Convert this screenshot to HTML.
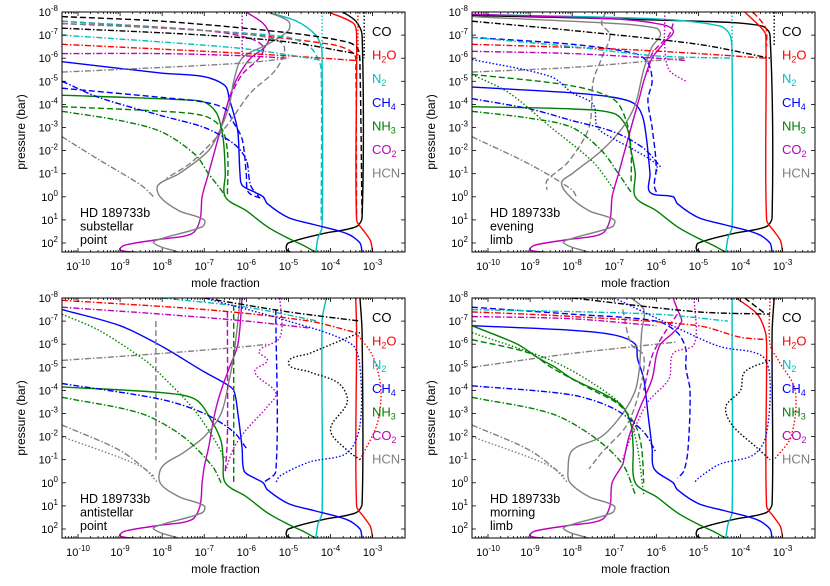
<!DOCTYPE html>
<html><head><meta charset="utf-8"><style>
body{margin:0;background:#fff;}
svg{display:block;font-family:"Liberation Sans",sans-serif;}
</style></head><body>
<svg id="chart" width="830" height="586" viewBox="0 0 830 586" xmlns="http://www.w3.org/2000/svg"></svg>
<script>
// ---- data (x = log10 mole fraction, y = log10 pressure in bar) ----
const species = ["CO","H2O","N2","CH4","NH3","CO2","HCN"];
const colors = {CO:"#000000",H2O:"#ff0000",N2:"#00bfbf",CH4:"#0000ff",NH3:"#008000",CO2:"#bf00bf",HCN:"#808080"};
const panelTitles = [["HD 189733b","substellar","point"],["HD 189733b","evening","limb"],["HD 189733b","antistellar","point"],["HD 189733b","morning","limb"]];
const xTickExps = [-10,-9,-8,-7,-6,-5,-4,-3];
const yTickExps = [-8,-7,-6,-5,-4,-3,-2,-1,0,1,2];

const deepCO = [[-3.25,0.9],[-3.4,1.3],[-4.2,1.6],[-5,2.0],[-5.05,2.25],[-4.95,2.4]];
const deepH2O = [[-3.38,1],[-3.2,1.5],[-3.05,1.9],[-3,2.4]];
const deepN2 = [[-4.2,1.3],[-4.3,1.8],[-4.35,2.4]];
const deepCH4 = [[-5.6,0],[-5.5,0.3],[-5,0.9],[-4.4,1.2],[-3.6,1.6],[-3.3,2],[-3.25,2.4]];
const deepNH3 = [[-6.5,0],[-6,0.6],[-5.5,1.3],[-5,1.8],[-4.65,2.1],[-4.35,2.4]];
const deepCO2 = [[-7.05,0],[-7.1,1],[-7.3,1.6],[-8.1,1.85],[-8.9,2.1],[-9,2.3],[-8.6,2.4]];
const deepHCN = [[-8.05,0],[-7.6,0.6],[-7,1],[-7.05,1.3],[-8,1.8],[-8.2,2],[-7.6,2.4]];

const panel1 = [
 ["CO","solid",[[-3.7,-8],[-3.4,-7.6],[-3.25,-7]].concat(deepCO)],
 ["H2O","solid",[[-4.05,-8],[-3.45,-7.5],[-3.38,-7]].concat(deepH2O)],
 ["N2","solid",[[-5.5,-8],[-4.8,-7.6],[-4.35,-7],[-4.22,-6.5],[-4.2,-6]].concat(deepN2)],
 ["CH4","solid",[[-10.38,-5.85],[-8,-5.35],[-7,-5.2],[-6.5,-4.8],[-6.4,-4.2],[-6.3,-3.6],[-6.2,-2.8],[-6.15,-1],[-6.1,-0.5],[-5.8,-0.2]].concat(deepCH4)],
 ["NH3","solid",[[-10.38,-4.4],[-7.5,-4.2],[-7,-4.1],[-6.7,-3.6],[-6.55,-2.5],[-6.5,-1]].concat(deepNH3)],
 ["CO2","solid",[[-6,-8],[-5.6,-7.5],[-5.45,-7],[-5.55,-6.5],[-5.9,-6],[-6.2,-5.2],[-6.4,-4.3],[-6.6,-3],[-6.75,-2],[-6.9,-1]].concat(deepCO2)],
 ["HCN","solid",[[-5.5,-8],[-5,-7.6],[-5,-7.2],[-5.5,-6.6],[-6.1,-6],[-6.3,-5],[-6.4,-4],[-6.6,-3],[-6.9,-2],[-7.6,-1],[-8.1,-0.5]].concat(deepHCN)],
 ["CO","dashed",[[-10.38,-7.8],[-8,-7.6],[-5,-7.1],[-3.6,-6.7],[-3.35,-6.4],[-3.3,-5.5],[-3.25,0.9]]],
 ["H2O","dashed",[[-10.38,-7.6],[-7,-7.2],[-4,-6.6],[-3.45,-6.2],[-3.4,-5.5],[-3.38,0.9]]],
 ["N2","dashed",[[-10.38,-7.6],[-7,-7.2],[-5,-6.9],[-4.5,-6.5],[-4.3,-6],[-4.22,-5.5],[-4.22,1]]],
 ["CH4","dashed",[[-10.38,-4.7],[-8,-4.3],[-7,-4.1],[-6.5,-3.8],[-6.3,-3.2],[-6.1,-2.5],[-6.0,-1],[-5.95,-0.2],[-5.6,0.1]]],
 ["NH3","dashed",[[-10.38,-3.9],[-8,-3.7],[-7,-3.5],[-6.6,-3],[-6.45,-2],[-6.45,0]]],
 ["CO2","dashed",[[-10.38,-7.5],[-7,-7.2],[-6,-6.9],[-5.6,-6.5],[-5.7,-6],[-6.1,-5.3],[-6.4,-4.3]]],
 ["HCN","dashed",[[-10.38,-7.5],[-7,-7.2],[-5.5,-6.9],[-5.1,-6.5],[-5.3,-5.5],[-5.9,-4.5],[-6.5,-3],[-7.3,-1.5],[-7.9,-0.8]]],
 ["CO","dashdot",[[-10.38,-7.3],[-7,-7.0],[-5,-6.7],[-3.4,-6.2]]],
 ["H2O","dashdot",[[-10.38,-6.6],[-7,-6.3],[-5,-6.1],[-3.4,-5.9]]],
 ["N2","dashdot",[[-10.38,-7.0],[-8,-6.7],[-6,-6.4],[-4.5,-6.0],[-4.2,-5.9]]],
 ["CH4","dashdot",[[-10.38,-5],[-9.5,-4.3],[-8,-3.5],[-7,-3],[-6.3,-2.3],[-6.0,-1.6],[-5.9,-0.5],[-5.7,0]]],
 ["NH3","dashdot",[[-10.38,-3.7],[-9,-3.3],[-8,-2.8],[-7.2,-1.8],[-6.9,-1],[-6.6,-0.3],[-6.5,0]]],
 ["CO2","dashdot",[[-10.38,-6.2],[-8,-6.2],[-6,-6.1],[-5,-6.0]]],
 ["HCN","dashdot",[[-10.38,-5.4],[-8,-5.6],[-6,-5.8],[-5,-6.0]]],
 ["HCN","dashdot",[[-10.38,-2.6],[-9.5,-1.6],[-8.5,-0.5],[-8.2,0]]],
 ["CO2","dotted",[[-6.1,-8],[-6.1,-6]]],
 ["N2","dotted",[[-4.2,-8],[-4.2,-6]]],
 ["CO","dotted",[[-3.2,-8],[-3.2,-6]]],
 ["H2O","dotted",[[-3.35,-8],[-3.35,-6]]]
];
const panel2 = [
 ["CO","solid",[[-10.38,-7.85],[-5,-7.6],[-3.5,-7.4],[-3.3,-7]].concat(deepCO)],
 ["H2O","solid",[[-3.9,-8],[-3.5,-7.3],[-3.4,-7]].concat(deepH2O)],
 ["N2","solid",[[-10.38,-7.9],[-6,-7.7],[-4.5,-7.4],[-4.25,-7],[-4.2,-6]].concat(deepN2)],
 ["CH4","solid",[[-10.38,-4.75],[-8,-4.5],[-7,-4.3],[-6.5,-4],[-6.3,-3.3],[-6.15,-1],[-6.15,-0.2]].concat(deepCH4)],
 ["NH3","solid",[[-10.38,-3.9],[-8,-3.8],[-7,-3.6],[-6.7,-3],[-6.6,-2],[-6.5,-1]].concat(deepNH3)],
 ["CO2","solid",[[-10.38,-7.9],[-7,-7.7],[-6,-7.5],[-5.6,-7.2],[-5.8,-6.7],[-6.1,-6],[-6.3,-5],[-6.4,-4.3],[-6.6,-3],[-6.75,-2],[-6.9,-1]].concat(deepCO2)],
 ["HCN","solid",[[-10.38,-7.8],[-7,-7.5],[-6,-7.3],[-5.9,-7],[-6.1,-6.5],[-6.3,-5.5],[-6.5,-4],[-6.8,-3],[-7.3,-2],[-8,-1],[-8.25,-0.6]].concat(deepHCN)],
 ["H2O","dashed",[[-3.7,-8],[-3.4,-7.3],[-3.38,-6.5]]],
 ["CH4","dashed",[[-10.38,-6.9],[-8,-6.6],[-6.5,-6.2],[-6.2,-5.8],[-6.1,-5],[-6.2,-4.2],[-6.1,-3],[-6,-1.3],[-6.05,-0.5],[-6,-0.2]]],
 ["NH3","dashed",[[-10.38,-5.3],[-8,-4.8],[-7,-4.2],[-6.7,-3.2],[-6.6,-2],[-6.6,-0.6]]],
 ["CO2","dashed",[[-5.6,-7.5],[-5.7,-7],[-6.1,-6.2],[-6.2,-5.4]]],
 ["HCN","dashed",[[-7.2,-8],[-7.3,-7.5],[-7.1,-7],[-7.3,-6],[-7.5,-5],[-7.6,-3],[-8.1,-1.5],[-8.6,-0.7],[-8.6,-0.3]]],
 ["CO","dashdot",[[-10.38,-7.6],[-8,-7.2],[-5,-6.6],[-3.3,-6.0]]],
 ["H2O","dashdot",[[-10.38,-6.6],[-7,-6.4],[-5,-6.2],[-3.4,-6.0]]],
 ["N2","dashdot",[[-10.38,-6.9],[-8,-6.5],[-6,-6.1],[-4.2,-6.0]]],
 ["CH4","dashdot",[[-10.38,-4.25],[-9,-3.8],[-8,-3.3],[-7,-2.8],[-6.3,-2.1],[-5.9,-1.3]]],
 ["NH3","dashdot",[[-10.38,-3.7],[-9,-3.4],[-8,-3],[-7.3,-2.0],[-6.9,-1],[-6.6,-0.2]]],
 ["CO2","dashdot",[[-10.38,-6.3],[-8,-6.2],[-6,-6.0],[-5.3,-5.9]]],
 ["HCN","dashdot",[[-10.38,-5.4],[-8,-5.6],[-6,-5.9],[-5.3,-6.0]]],
 ["HCN","dashdot",[[-10.38,-2.6],[-9,-1.4],[-8,-0.3],[-7.9,0]]],
 ["CH4","dotted",[[-10.38,-5.95],[-8.5,-5.2],[-8,-4.5],[-7.5,-4.0],[-7.4,-3],[-7,-2.5],[-6.5,-2.0],[-6,-1.4],[-6,-1]]],
 ["NH3","dotted",[[-10.38,-5.3],[-9.5,-4.5],[-8.5,-3],[-7.5,-1.5],[-7,-0.3]]],
 ["CO2","dotted",[[-5.8,-8],[-5.8,-6.5],[-5.7,-5.5],[-5.3,-5]]],
 ["CO","dotted",[[-3.2,-8],[-3.2,-6.5]]],
 ["N2","dotted",[[-4.2,-8],[-4.2,-6.5]]]
];
const panel3 = [
 ["CO","solid",[[-3.3,-8],[-3.25,-6.5]].concat(deepCO)],
 ["H2O","solid",[[-3.4,-8],[-3.38,-6.5]].concat(deepH2O)],
 ["N2","solid",[[-4.1,-8],[-4.2,-7]].concat(deepN2)],
 ["CH4","solid",[[-10.38,-7.5],[-9,-6.8],[-8,-5.9],[-7,-4.8],[-6.5,-4.3],[-6.3,-4],[-6.2,-3],[-6.1,-1.5],[-6.05,-0.5],[-5.8,-0.2]].concat(deepCH4)],
 ["NH3","solid",[[-10.38,-4.15],[-8,-3.9],[-7.2,-3.6],[-6.8,-2.6],[-6.6,-1.8],[-6.55,-1]].concat(deepNH3)],
 ["CO2","solid",[[-6.1,-8],[-6.2,-6],[-6.4,-5],[-6.6,-4],[-6.75,-3],[-6.9,-1.5],[-7.0,-0.7]].concat(deepCO2)],
 ["HCN","solid",[[-6.15,-8],[-6.2,-7],[-6.3,-5.5],[-6.4,-4.5],[-6.6,-3],[-7.0,-2],[-7.5,-1.3],[-8.0,-0.7]].concat(deepHCN)],
 ["CO2","dashed",[[-6.45,-7.4],[-6.45,-2],[-6.5,-0.5]]],
 ["NH3","dashed",[[-6.3,-7.7],[-6.3,0]]],
 ["CH4","dashed",[[-5.3,-7.5],[-5.3,-0.5],[-5.6,0]]],
 ["HCN","dashed",[[-8.15,-7],[-8.15,-1]]],
 ["CO","dashdot",[[-7,-8],[-5,-7.4],[-3.3,-7.0]]],
 ["H2O","dashdot",[[-10.38,-7.9],[-7,-7.5],[-4.5,-7],[-3.4,-6.5]]],
 ["N2","dashdot",[[-8,-8],[-6,-7.6],[-4.3,-7]]],
 ["CO2","dashdot",[[-10.38,-7.6],[-8,-7.3],[-6,-7],[-4.5,-6.7]]],
 ["CH4","dashdot",[[-10.38,-4.3],[-8,-3.6],[-7,-3],[-6.3,-2.2],[-6.0,-1.5]]],
 ["NH3","dashdot",[[-10.38,-3.7],[-8.5,-3.0],[-7.5,-2.0],[-6.8,-0.7],[-6.6,0]]],
 ["HCN","dashdot",[[-10.38,-5.3],[-8,-5.6],[-6,-5.9],[-5.5,-6]]],
 ["HCN","dashdot",[[-10.38,-2.5],[-9,-1.4],[-8.2,-0.3]]],
 ["CO","dotted",[[-3.3,-6.5],[-4.5,-5.6],[-5,-5.2],[-4.5,-4.8],[-3.8,-4.3],[-3.6,-3.5],[-4,-2.3],[-3.6,-1.4],[-3.3,-1]]],
 ["H2O","dotted",[[-3.4,-6.5],[-3.0,-5.5],[-2.8,-4],[-2.9,-2.5],[-3.3,-1]]],
 ["CH4","dotted",[[-7,-8],[-5,-7],[-3.5,-6],[-3.3,-5],[-3.3,-2.5],[-3.6,-1.3],[-4.5,-0.9],[-5.2,-0.3],[-5.3,0]]],
 ["CO2","dotted",[[-5.2,-8],[-5.2,-6.3],[-5.7,-5.7],[-5.5,-5.3],[-5.8,-4.8],[-5.3,-3.9],[-5.5,-3.3],[-6,-2.3],[-6.3,-1.5],[-6.5,-0.5]]],
 ["NH3","dotted",[[-10.38,-7.3],[-9.5,-6.6],[-8.4,-5.3],[-8.1,-4.8],[-7.3,-3.3],[-6.8,-2],[-6.5,-1]]],
 ["HCN","dotted",[[-10.38,-2],[-8.5,-0.7],[-8.1,0]]]
];
const panel4 = [
 ["CO","solid",[[-3.2,-8],[-3.25,-6.5]].concat(deepCO)],
 ["H2O","solid",[[-4.1,-8],[-3.6,-7.3],[-3.42,-6.6],[-3.38,-6]].concat(deepH2O)],
 ["N2","solid",[[-4.2,-8],[-4.2,-6]].concat(deepN2)],
 ["CH4","solid",[[-10.38,-6.8],[-8,-6.6],[-7,-6.4],[-6.5,-6],[-6.45,-5.4],[-6.3,-4.5],[-6.2,-3],[-6.1,-1.5],[-6.05,-0.6]].concat(deepCH4)],
 ["NH3","solid",[[-10.38,-6.8],[-9.3,-6],[-8.8,-5.4],[-8.4,-5.0],[-8,-4.5],[-7.2,-3.8],[-6.8,-3.3],[-6.6,-2.5],[-6.55,-1.5]].concat(deepNH3)],
 ["CO2","solid",[[-5.6,-8],[-5.5,-7.5],[-5.4,-7],[-5.6,-6.5],[-5.9,-6],[-6.0,-5.5],[-6.1,-4.5],[-6.4,-3.2],[-6.65,-2],[-6.75,-1.2],[-6.8,-0.8]].concat(deepCO2)],
 ["HCN","solid",[[-6.6,-8],[-6.3,-7.5],[-6.35,-6.5],[-6.4,-5],[-6.5,-4],[-6.8,-3],[-7.3,-2],[-8.0,-1.4],[-8.1,-0.5]].concat(deepHCN)],
 ["CO","dashed",[[-3.9,-8],[-3.4,-7.3]]],
 ["CH4","dashed",[[-10.38,-7.6],[-8,-7.3],[-6,-7],[-5.5,-6.5],[-5.3,-5.8],[-5.3,-5],[-5.2,-4],[-5.25,-1.4],[-5.35,-0.5],[-5.5,-0.2]]],
 ["NH3","dashed",[[-10.38,-6.2],[-9,-5.6],[-8.5,-5.0],[-7.5,-4],[-6.9,-3.4],[-6.5,-2.5],[-6.35,-1.5],[-6.3,0]]],
 ["CO2","dashed",[[-5.5,-7.3],[-5.8,-6.5],[-6.1,-5.5],[-6.3,-4]]],
 ["HCN","dashed",[[-6.8,-7.5],[-6.6,-6],[-6.3,-5.5],[-6.4,-4],[-6.7,-2.5],[-7.3,-1.3],[-7.6,-0.6]]],
 ["CO","dashdot",[[-8,-8],[-5,-7.4],[-3.3,-7.3]]],
 ["H2O","dashdot",[[-10.38,-7.4],[-8,-7.2],[-5,-6.8],[-4,-6.3],[-3.4,-6.2]]],
 ["N2","dashdot",[[-10.38,-7.5],[-6,-7.3],[-4.3,-7.0]]],
 ["CH4","dashdot",[[-10.38,-4.2],[-8,-3.8],[-7,-3.2],[-6.3,-2.2],[-6,-1.3]]],
 ["NH3","dashdot",[[-10.38,-3.7],[-8.5,-3],[-7.5,-2],[-6.8,-0.8],[-6.5,0.5]]],
 ["CO2","dashdot",[[-10.38,-7.2],[-8,-7.1],[-6,-6.8]]],
 ["HCN","dashdot",[[-10.38,-5.0],[-8,-5.6],[-6,-6],[-5.5,-6.1]]],
 ["HCN","dashdot",[[-10.38,-2.5],[-9,-1.4],[-8.2,-0.3]]],
 ["CO","dotted",[[-3.3,-5.3],[-3.9,-4.8],[-4,-4],[-4.35,-3.3],[-4.2,-2.5],[-3.6,-1.5],[-3.3,-1]]],
 ["H2O","dotted",[[-3.3,-8],[-3.3,-6],[-3.1,-5.3],[-2.7,-4],[-2.8,-2],[-3.2,-1]]],
 ["CH4","dotted",[[-7,-8],[-5.5,-6.7],[-4.5,-5.9],[-3.5,-5.5],[-3.3,-4.5],[-3.4,-2],[-3.7,-1.2],[-4.5,-0.8],[-5.0,-0.2],[-5.1,0]]],
 ["CO2","dotted",[[-5.1,-8],[-5.1,-6],[-5.6,-5.6],[-5.7,-4.5],[-6.2,-3.5],[-6.6,-2],[-6.8,-1]]],
 ["NH3","dotted",[[-10.38,-6.5],[-8.5,-5.3],[-7.5,-4.3],[-6.8,-3.3],[-6.5,-2],[-6.3,0.5]]],
 ["HCN","dotted",[[-10.38,-2],[-8.5,-0.7],[-8.1,0]]]
];
const panelsData = [panel1,panel2,panel3,panel4];

// ---- layout ----
const NS="http://www.w3.org/2000/svg";
const svg=document.getElementById('chart');
const offsets=[[0,0],[410,0],[0,286],[410,286]];
const FL=62, FT=12, FW=343, FH=240;
const XMIN=-10.38, XMAX=-2.23, YMIN=-8, YMAX=2.39;
const dashes={solid:"",dashed:"6,3",dashdot:"6,2,1.5,2",dotted:"1.5,2"};
const labelHTML={CO:"CO",H2O:'H<tspan dy="3" font-size="9">2</tspan><tspan dy="-3">O</tspan>',N2:'N<tspan dy="3" font-size="9">2</tspan>',CH4:'CH<tspan dy="3" font-size="9">4</tspan>',NH3:'NH<tspan dy="3" font-size="9">3</tspan>',CO2:'CO<tspan dy="3" font-size="9">2</tspan>',HCN:"HCN"};
function mk(tag,attrs,parent){const e=document.createElementNS(NS,tag);for(const k in attrs)e.setAttribute(k,attrs[k]);(parent||svg).appendChild(e);return e;}
function smoothPath(P){
  if(P.length<3) return P.map((p,i)=>(i?'L':'M')+p[0].toFixed(1)+','+p[1].toFixed(1)).join(' ');
  const n=P.length, tan=[];
  for(let i=0;i<n;i++){
    const a=P[Math.max(0,i-1)], b=P[Math.min(n-1,i+1)];
    let dx=b[0]-a[0], dy=b[1]-a[1]; const l=Math.hypot(dx,dy)||1;
    tan.push([dx/l,dy/l]);
  }
  let d='M'+P[0][0].toFixed(1)+','+P[0][1].toFixed(1);
  for(let i=0;i<n-1;i++){
    const p1=P[i],p2=P[i+1];
    const seg=Math.hypot(p2[0]-p1[0],p2[1]-p1[1]);
    const h=seg*0.3;
    const c1=[p1[0]+tan[i][0]*h,p1[1]+tan[i][1]*h];
    const c2=[p2[0]-tan[i+1][0]*h,p2[1]-tan[i+1][1]*h];
    d+=' C'+c1[0].toFixed(1)+','+c1[1].toFixed(1)+' '+c2[0].toFixed(1)+','+c2[1].toFixed(1)+' '+p2[0].toFixed(1)+','+p2[1].toFixed(1);
  }
  return d;
}

panelsData.forEach((data,pi)=>{
  const [ox,oy]=offsets[pi];
  const L=ox+FL,T=oy+FT;
  const sx=e=>L+(e-XMIN)/(XMAX-XMIN)*FW;
  const sy=p=>T+(p-YMIN)/(YMAX-YMIN)*FH;
  const g=mk('g',{});
  
  
  const defs=mk('defs',{},g);
  const cp=mk('clipPath',{id:'clip'+pi},defs);
  mk('rect',{x:L,y:T,width:FW,height:FH},cp);
  const lines=mk('g',{'clip-path':'url(#clip'+pi+')'},g);
  data.forEach((s)=>{
    const pts=s[2].map(pt=>[sx(pt[0]),sy(pt[1])]);
    const path=mk('path',{d:smoothPath(pts),fill:'none',stroke:colors[s[0]],'stroke-width':1.4,'stroke-dasharray':dashes[s[1]],'stroke-linejoin':'round'},lines);
    
    
  });
  const fr=mk('rect',{x:L,y:T,width:FW,height:FH,fill:'none',stroke:'#000','stroke-width':1},g);
  
  
  for(let e=-11;e<=-2;e++){
    for(let m=1;m<10;m++){
      const v=e+Math.log10(m); if(v<XMIN||v>XMAX)continue;
      const len=m===1?4:2; const x=sx(v);
      mk('line',{x1:x,y1:T+FH,x2:x,y2:T+FH-len,stroke:'#000','stroke-width':0.8},g);
      mk('line',{x1:x,y1:T,x2:x,y2:T+len,stroke:'#000','stroke-width':0.8},g);
    }
  }
  xTickExps.forEach(e=>{
    const t=mk('text',{x:sx(e),y:T+FH+18,'font-size':11,'text-anchor':'middle'},g);
    t.innerHTML='10<tspan dy="-5" font-size="8">'+(e<0?'-':'')+Math.abs(e)+'</tspan>';
    
    
  });
  yTickExps.forEach(p=>{
    const y=sy(p);
    mk('line',{x1:L,y1:y,x2:L+4,y2:y,stroke:'#000','stroke-width':0.8},g);
    mk('line',{x1:L+FW,y1:y,x2:L+FW-4,y2:y,stroke:'#000','stroke-width':0.8},g);
    const t=mk('text',{x:L-4,y:y+4,'font-size':11,'text-anchor':'end'},g);
    t.innerHTML='10<tspan dy="-5" font-size="8">'+(p<0?'-':'')+Math.abs(p)+'</tspan>';
    
    
  });
  const xt=mk('text',{x:L+FW/2-8,y:T+FH+35,'font-size':12,'text-anchor':'middle'},g);
  xt.textContent='mole fraction';
  
  
  const yt=mk('text',{x:0,y:0,'font-size':12,'text-anchor':'middle',transform:'translate('+(L-37)+','+(T+FH/2)+') rotate(-90)'},g);
  yt.textContent='pressure (bar)';
  
  
  species.forEach((sp,i)=>{
    const t=mk('text',{x:L+FW-33,y:T+24+i*23.6,'font-size':13,fill:colors[sp]},g);
    t.innerHTML=labelHTML[sp];
    
    
  });
  panelTitles[pi].forEach((line,i)=>{
    const t=mk('text',{x:L+18,y:T+205+i*13.5,'font-size':12.5},g);
    t.textContent=line;
    
    
  });
});
</script>
</body></html>
